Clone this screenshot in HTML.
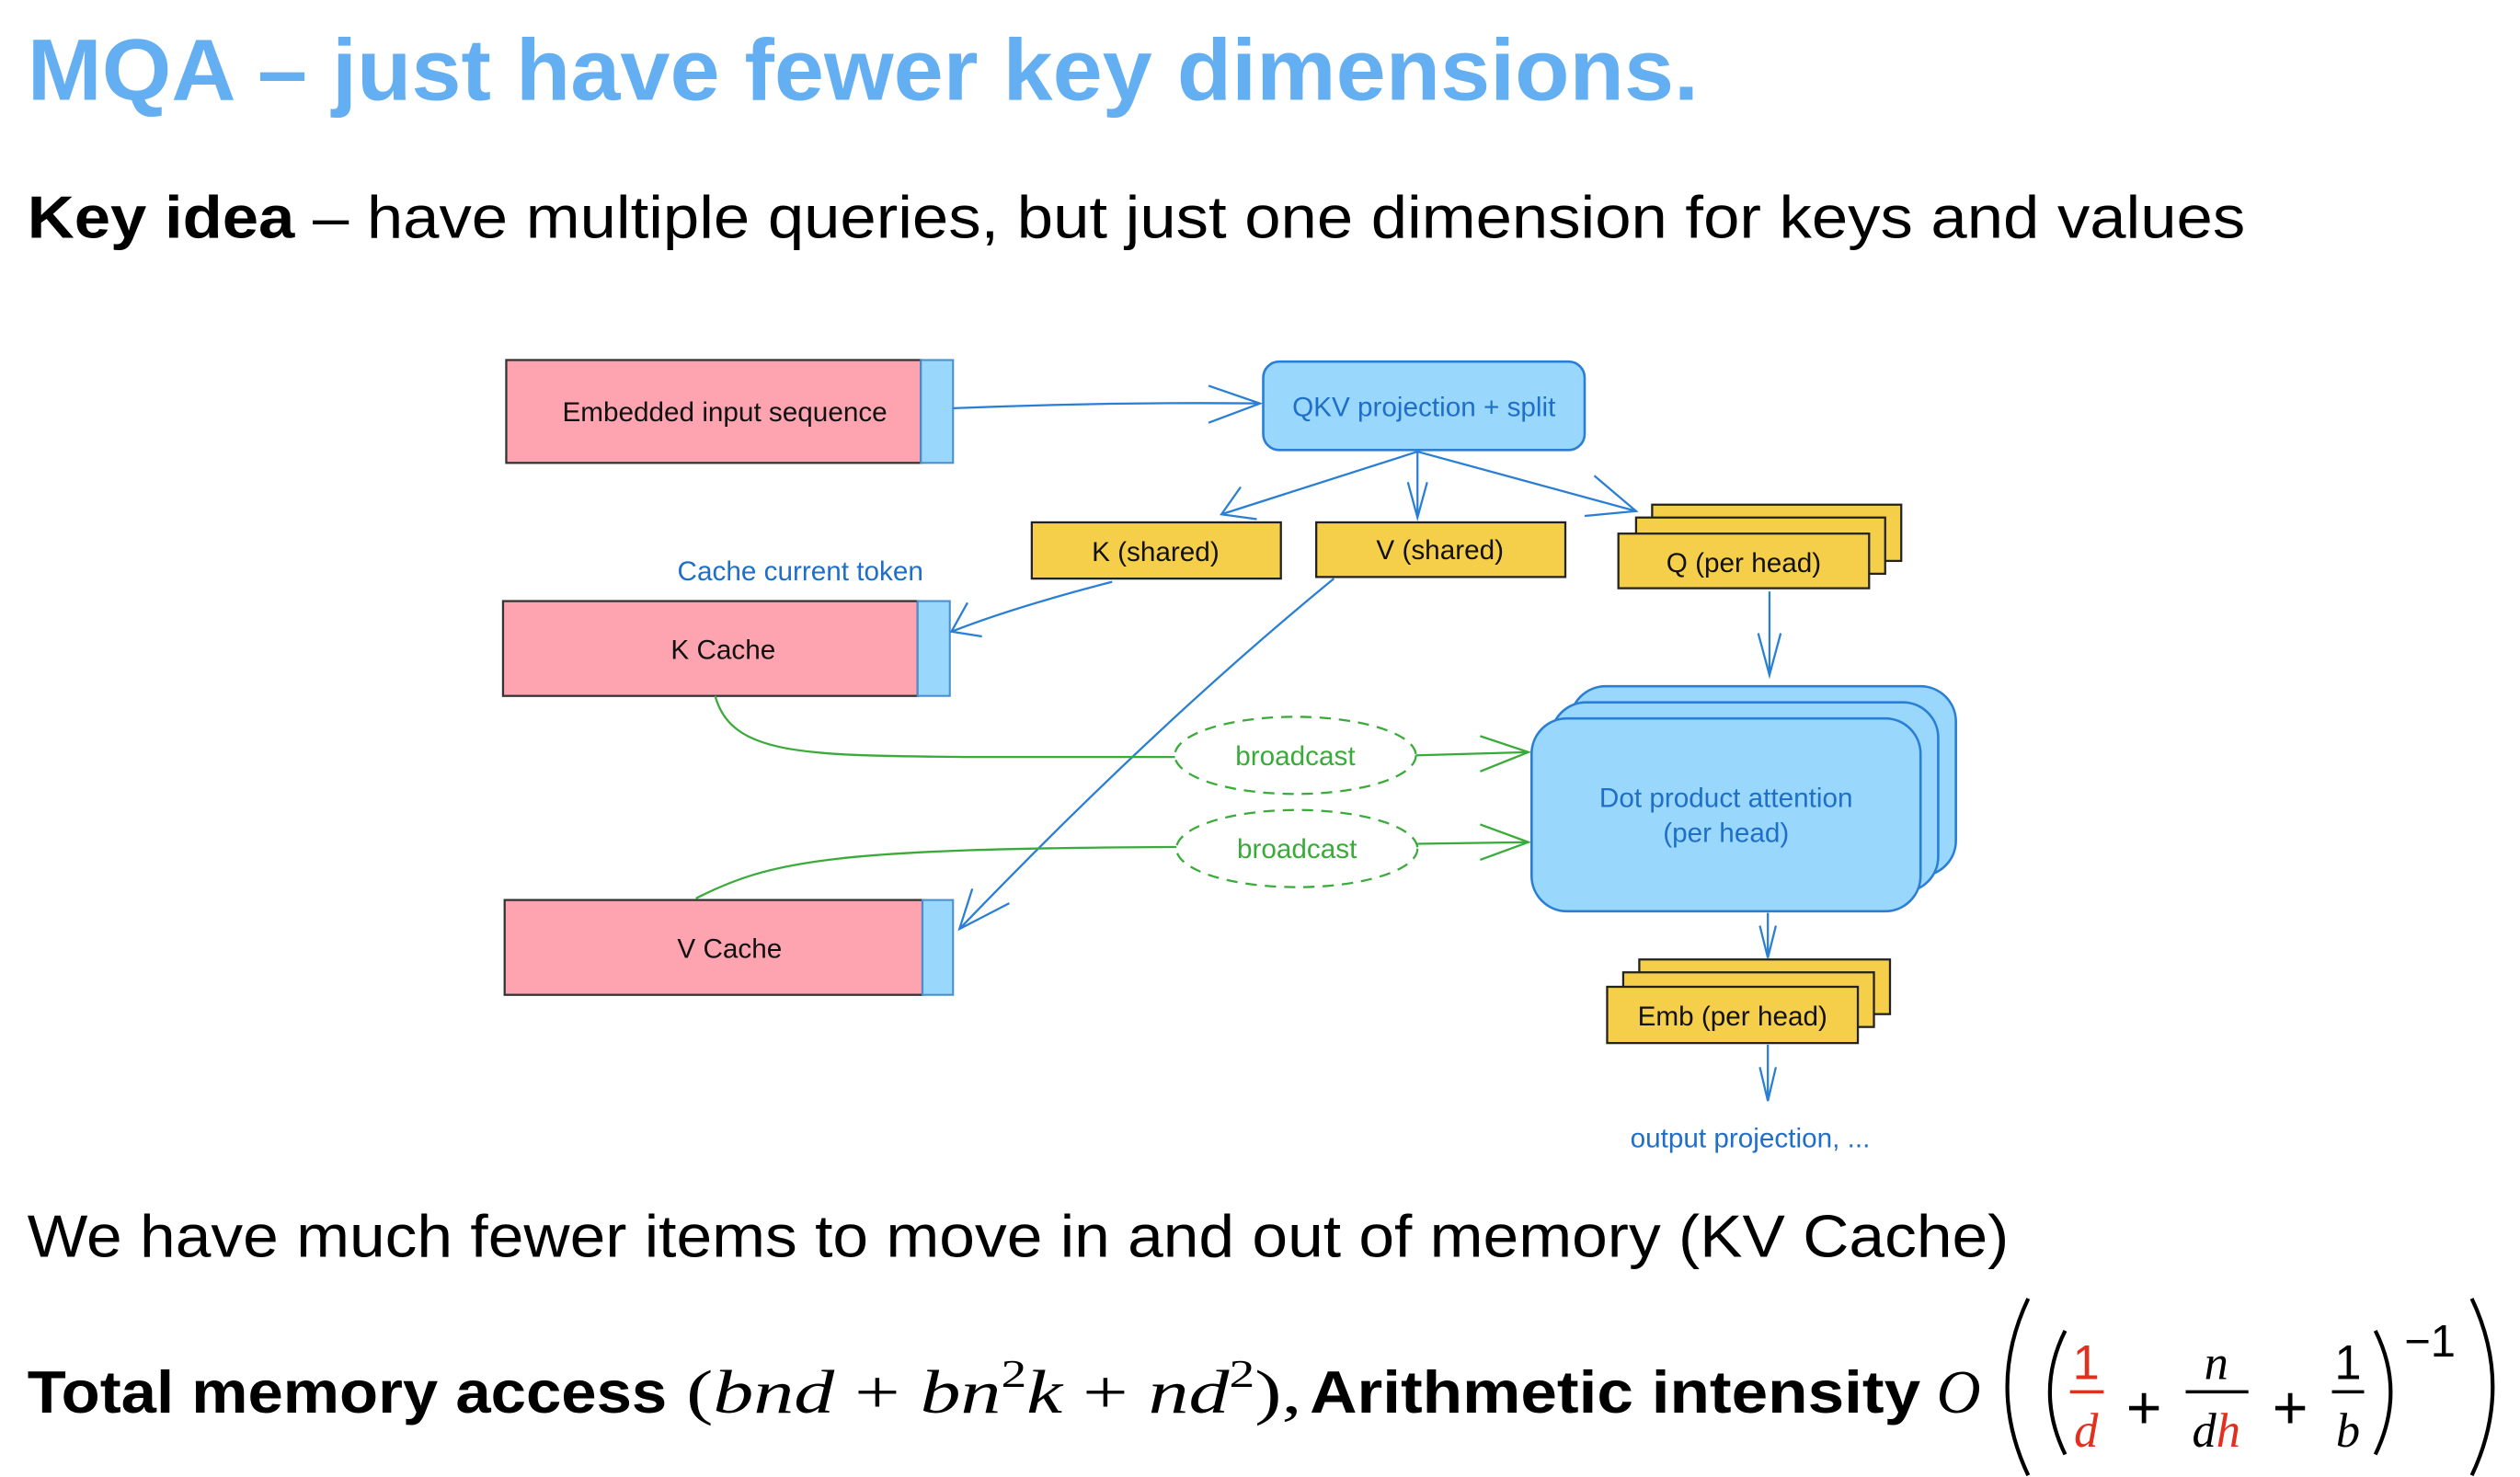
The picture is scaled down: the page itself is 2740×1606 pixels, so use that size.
<!DOCTYPE html>
<html><head><meta charset="utf-8"><style>
html,body{margin:0;padding:0;background:#fff;}
svg{display:block;}
text{font-family:"Liberation Sans",sans-serif;}
.m{font-family:"Liberation Serif",serif;font-style:italic;}
.r{font-family:"Liberation Serif",serif;}
</style></head><body>
<svg width="2740" height="1606" viewBox="0 0 1568 919" xmlns="http://www.w3.org/2000/svg">
<rect width="1568" height="919" fill="#fff"/>
<text x="17" y="62" font-size="54" font-weight="bold" fill="#64aef2" textLength="1040" lengthAdjust="spacingAndGlyphs">MQA – just have fewer key dimensions.</text>
<text x="17" y="148" font-size="37" fill="#000" textLength="1380" lengthAdjust="spacingAndGlyphs"><tspan font-weight="bold">Key idea</tspan> – have multiple queries, but just one dimension for keys and values</text>

<!-- boxes -->
<g stroke="#333" stroke-width="1.3">
<rect x="315" y="224" width="258" height="64" fill="#fda4b0"/>
<rect x="313" y="374" width="258" height="59" fill="#fda4b0"/>
<rect x="314" y="560" width="260" height="59" fill="#fda4b0"/>
</g>
<g stroke="#4a90d0" stroke-width="1.2" fill="#99d8fc">
<rect x="573" y="224" width="20" height="64"/>
<rect x="571" y="374" width="20" height="59"/>
<rect x="574" y="560" width="19" height="59"/>
</g>
<g font-size="17" fill="#111" text-anchor="middle">
<text x="451" y="262">Embedded input sequence</text>
<text x="450" y="410">K Cache</text>
<text x="454" y="596">V Cache</text>
</g>
<rect x="786" y="225" width="200" height="55" rx="10" fill="#99d8fc" stroke="#2a7fd4" stroke-width="1.5"/>
<text x="886" y="259" font-size="17" fill="#1f6fc9" text-anchor="middle">QKV projection + split</text>

<g stroke="#222" stroke-width="1.3" fill="#f5cf4a">
<rect x="642" y="325" width="155" height="35"/>
<rect x="819" y="325" width="155" height="34"/>
<rect x="1028" y="314" width="155" height="35"/>
<rect x="1018" y="322" width="155" height="35"/>
<rect x="1007" y="332" width="156" height="34"/>
<rect x="1020" y="597" width="156" height="34"/>
<rect x="1010" y="605" width="156" height="34"/>
<rect x="1000" y="614" width="156" height="35"/>
</g>
<g font-size="17" fill="#111" text-anchor="middle">
<text x="719" y="349">K (shared)</text>
<text x="896" y="348">V (shared)</text>
<text x="1085" y="356">Q (per head)</text>
<text x="1078" y="638">Emb (per head)</text>
</g>
<text x="498" y="361" font-size="17" fill="#1f6fc9" text-anchor="middle">Cache current token</text>
<text x="1089" y="714" font-size="17" fill="#1f6fc9" text-anchor="middle">output projection, ...</text>

<g fill="#99d8fc" stroke="#2a7fd4" stroke-width="1.5">
<rect x="977" y="427" width="240" height="118" rx="22"/>
<rect x="965" y="437" width="241" height="118" rx="22"/>
<rect x="953" y="447" width="242" height="120" rx="22"/>
</g>
<text x="1074" y="502" font-size="17" fill="#1f6fc9" text-anchor="middle">Dot product attention</text>
<text x="1074" y="524" font-size="17" fill="#1f6fc9" text-anchor="middle">(per head)</text>

<!-- blue connectors -->
<g stroke="#2a7fd4" stroke-width="1.3" fill="none">
<path d="M593 254 Q690 250 784 251"/><path d="M752 240 L784 251 L752 263"/>
<path d="M882 281 L760 320"/><path d="M772 303 L760 320 L782 323"/>
<path d="M882 281 L882 322"/><path d="M876 300 L882 322 L888 300"/>
<path d="M882 281 L1018 318"/><path d="M992 296 L1018 318 L986 321"/>
<path d="M692 362 Q630 378 592 393"/><path d="M602 375 L592 393 L611 396"/>
<path d="M830 360 Q720 450 597 578"/><path d="M605 553 L597 578 L628 562"/>
<path d="M1101 368 L1101 420"/><path d="M1094 394 L1101 420 L1108 394"/>
<path d="M1100 568 L1100 596"/><path d="M1095 576 L1100 596 L1105 576"/>
<path d="M1100 650 L1100 685"/><path d="M1095 664 L1100 685 L1105 664"/>
</g>
<!-- green -->
<g stroke="#3aab3a" stroke-width="1.3" fill="none">
<path d="M445 433 C455 470 500 470 600 471 L732 471"/>
<path d="M433 559 C480 535 520 528 732 527"/>
<path d="M880 470 L951 468"/><path d="M921 458 L951 468 L921 480"/>
<path d="M882 525 L951 524"/><path d="M921 513 L951 524 L921 535"/>
<ellipse cx="806" cy="470" rx="75" ry="24" stroke-dasharray="7,5" fill="#fff"/>
<ellipse cx="807" cy="528" rx="75" ry="24" stroke-dasharray="7,5" fill="#fff"/>
</g>
<text x="806" y="476" font-size="17" fill="#3aab3a" text-anchor="middle">broadcast</text>
<text x="807" y="534" font-size="17" fill="#3aab3a" text-anchor="middle">broadcast</text>

<text x="17" y="782" font-size="37" fill="#000" textLength="1233" lengthAdjust="spacingAndGlyphs">We have much fewer items to move in and out of memory (KV Cache)</text>

<text x="17" y="879" font-size="37" font-weight="bold" fill="#000" textLength="398" lengthAdjust="spacingAndGlyphs">Total memory access</text>
<text x="427" y="879" font-size="38" class="r" textLength="383" lengthAdjust="spacingAndGlyphs">(<tspan class="m">bnd</tspan> + <tspan class="m">bn</tspan><tspan dy="-16" font-size="24">2</tspan><tspan dy="16" class="m">k</tspan> + <tspan class="m">nd</tspan><tspan dy="-16" font-size="24">2</tspan><tspan dy="16">),</tspan></text>
<text x="815" y="879" font-size="37" font-weight="bold" fill="#000" textLength="380" lengthAdjust="spacingAndGlyphs">Arithmetic intensity</text>
<text x="1205" y="879" font-size="38" class="m">O</text>
<g stroke="#000" stroke-width="2.4" fill="none">
<path d="M1262 808 Q1236 863 1262 918"/>
<path d="M1285 828 Q1266 866 1285 905"/>
<path d="M1478 828 Q1497 866 1478 905"/>
<path d="M1538 808 Q1564 863 1538 918"/>
</g>
<line x1="1288" y1="866" x2="1309" y2="866" stroke="#e0301e" stroke-width="2"/>
<line x1="1360" y1="866" x2="1399" y2="866" stroke="#000" stroke-width="2"/>
<line x1="1451" y1="866" x2="1471" y2="866" stroke="#000" stroke-width="2"/>
<g font-size="30" class="r" text-anchor="middle">
<text x="1298" y="858" fill="#e0301e">1</text>
<text x="1298" y="900" fill="#e0301e" class="m">d</text>
<text x="1334" y="889" font-size="38">+</text>
<text x="1379" y="858" class="m">n</text>
<text x="1379" y="900" class="m">d<tspan fill="#e0301e">h</tspan></text>
<text x="1425" y="889" font-size="38">+</text>
<text x="1461" y="858">1</text>
<text x="1461" y="900" class="m">b</text>
<text x="1512" y="844" font-size="28">−1</text>
</g>
</svg>
</body></html>
